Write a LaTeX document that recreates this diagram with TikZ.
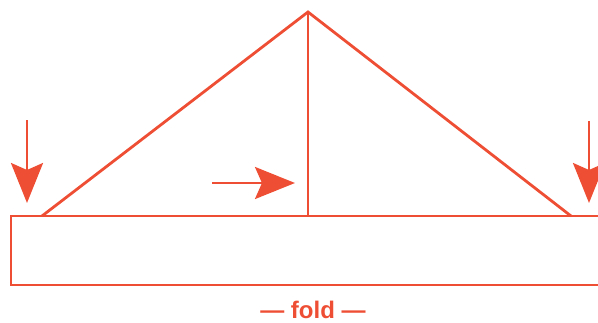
\documentclass[tikz,border=0pt]{standalone}
\usepackage{fontspec}
\setmainfont{Liberation Sans}
\usetikzlibrary{arrows.meta}
\definecolor{fold}{RGB}{238,78,52}
\tikzset{
  edge/.style={draw=fold, line width=2.8pt},
  pointer/.style={draw=fold, line width=2.8pt, -{Stealth[length=40pt,width=32pt,inset=7pt]}},
}
\begin{document}
\begin{tikzpicture}[x=1pt,y=-1pt]
\useasboundingbox (0,0) rectangle (598,323);
\begin{scope}
\clip (0,0) rectangle (598,323);
\coordinate (apex) at (308,12);
\coordinate (bl) at (42,216);
\coordinate (br) at (571,216);
\coordinate (bm) at (308,216);
\draw[edge] (11,216) rectangle (620,285);
\draw[edge, line join=miter] (bl) -- (apex) -- (br);
\draw[edge] (apex) -- (bm);
\coordinate (a1s) at (27,120);
\coordinate (a1e) at (27,203);
\coordinate (a2s) at (589,121);
\coordinate (a2e) at (589,203);
\coordinate (a3s) at (212,183);
\coordinate (a3e) at (295,183);
\draw[pointer] (a1s) -- (a1e);
\draw[pointer] (a2s) -- (a2e);
\draw[pointer] (a3s) -- (a3e);
\end{scope}
\node[text=fold, inner sep=0pt, font=\bfseries\fontsize{24}{27}\selectfont] (lbl) at (313,310) {— fold —};
\end{tikzpicture}
\end{document}
